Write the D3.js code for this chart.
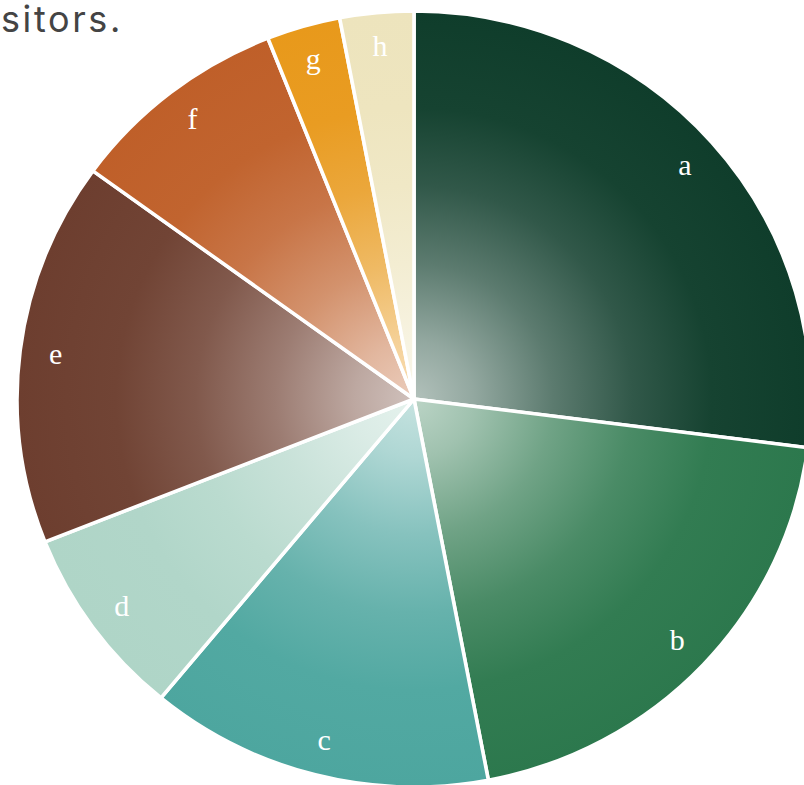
<!DOCTYPE html>
<html>
<head>
<meta charset="utf-8">
<script src="https://cdn.jsdelivr.net/npm/d3@7"></script>
<style>
  html, body { margin: 0; padding: 0; background: #fff; overflow: hidden; }
  svg { display: block; }
</style>
</head>
<body>
<svg id="chart" width="804" height="785"></svg>
<script>
const categories = ["a", "b", "c", "d", "e", "f", "g", "h"];
const values = [27, 20, 14, 8, 16, 9, 3, 3];
const colors = ["#0f3d2b", "#2c784d", "#4da69f", "#afd5c7", "#6d3e2f", "#bf5f29", "#e8991b", "#ede4bd"];
const titleText = "sitors.";

const data = categories.map((c, i) => ({ name: c, value: values[i], color: colors[i] }));

const svg = d3.select("#chart");
const cx = 414, cy = 399, radius = 388, sx = 1.023;

svg.append("text")
  .attr("x", 1)
  .attr("y", 32)
  .attr("font-family", "Inter, 'Open Sans', sans-serif")
  .attr("font-size", 36)
  .attr("letter-spacing", 2.6)
  .attr("fill", "#444")
  .text(titleText);

const pie = d3.pie().sort(null).value(d => d.value);
const arcs = pie(data);
const arc = d3.arc().innerRadius(0).outerRadius(radius);
const labelArc = d3.arc().innerRadius(radius * 0.91).outerRadius(radius * 0.91);

const defs = svg.append("defs");
data.forEach((d, i) => {
  const g = defs.append("radialGradient")
    .attr("id", "grad" + i)
    .attr("gradientUnits", "userSpaceOnUse")
    .attr("cx", 0).attr("cy", 0).attr("r", radius);
  const mix = t => d3.interpolateRgb(d.color, "#fff")(t);
  [[0, 0.68], [0.15, 0.55], [0.35, 0.32], [0.55, 0.14], [0.75, 0.03], [1, 0]].forEach(([o, t]) => {
    g.append("stop").attr("offset", o).attr("stop-color", mix(t));
  });
});

const gPie = svg.append("g").attr("transform", `translate(${cx},${cy}) scale(${sx},1)`);
gPie.selectAll("path")
  .data(arcs)
  .join("path")
  .attr("d", arc)
  .attr("fill", (d, i) => `url(#grad${i})`)
  .attr("stroke", "#fff")
  .attr("stroke-width", 3.5)
  .attr("stroke-linejoin", "round");

svg.append("g")
  .selectAll("text")
  .data(arcs)
  .join("text")
  .attr("x", d => cx + labelArc.centroid(d)[0] * sx)
  .attr("y", d => cy + labelArc.centroid(d)[1])
  .attr("dy", "0.3em")
  .attr("text-anchor", "middle")
  .attr("font-family", "'Liberation Serif', 'Times New Roman', serif")
  .attr("font-size", 30)
  .attr("fill", "#fff")
  .text(d => d.data.name);
</script>
</body>
</html>
